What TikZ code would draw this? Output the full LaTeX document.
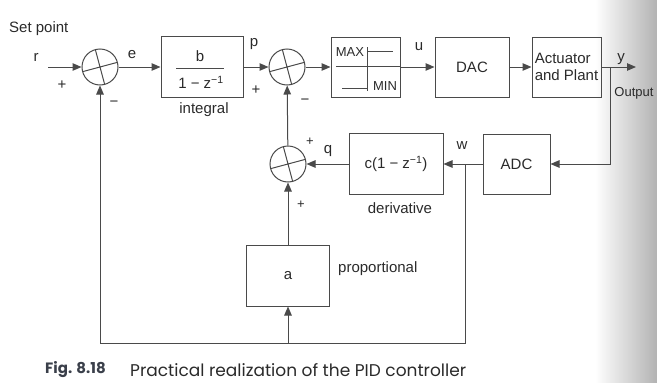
\documentclass[tikz,border=0pt]{standalone}
\usepackage{fontspec}
\setmainfont{Liberation Sans}
\newfontfamily\captfont{Poppins}
\usetikzlibrary{arrows.meta,calc}
\definecolor{ln}{HTML}{4A4A4A}
\definecolor{tx}{HTML}{2A2A2A}
\definecolor{capc}{HTML}{3A3F4A}
\begin{document}
\begin{tikzpicture}[x=1pt,y=-1pt,
  lab/.style={text=tx,font=\fontsize{15}{17}\selectfont,inner sep=0pt},
  slab/.style={text=tx,font=\fontsize{13}{15}\selectfont,inner sep=0pt},
  blk/.style={draw=ln,line width=1pt,rectangle,inner sep=0pt,text=tx,font=\fontsize{15}{17}\selectfont},
  summer/.style={draw=ln,line width=1pt,circle,minimum size=36pt,inner sep=0pt},
  wire/.style={draw=ln,line width=1pt},
  arr/.style={wire,-{Triangle[length=9pt,width=7.5pt]},color=ln}]
\useasboundingbox (0,0) rectangle (657,383);
\shade[left color=white,right color=black!30] (595,0) rectangle (657,383);
% summing junctions
\node[summer] (s1) at (100,67) {};
\node[summer] (s2) at (287,67) {};
\node[summer] (s3) at (288,164) {};
\foreach \s in {s1,s2,s3} {\draw[wire] (\s.15) -- (\s.195) (\s.105) -- (\s.285);}
% blocks
\node[blk,minimum width=82pt,minimum height=61pt] (intg) at (202,67) {};
\node[lab] (bnum) at (200,56) {b};
\draw[wire] (176,68.5) -- (224,68.5);
\node[lab] (bden) at (201,82) {1 − z\textsuperscript{−1}};
\node[blk,minimum width=69pt,minimum height=60pt] (sat) at (365.5,67) {};
\node[blk,minimum width=74pt,minimum height=60pt] (dac) at (472,67) {DAC};
\node[blk,minimum width=69pt,minimum height=60pt,align=left] (act) at (566.5,67) {Actuator\\and Plant};
\node[blk,minimum width=67pt,minimum height=60pt] (adc) at (516.5,164) {ADC};
\node[blk,minimum width=94pt,minimum height=61pt] (der) at (396,164) {c(1 − z\textsuperscript{−1})};
\node[blk,minimum width=83pt,minimum height=61pt] (pa) at (288,275.5) {a};
% saturation
\node[text=tx,font=\fontsize{13}{15}\selectfont,inner sep=0pt] (mx) at (350,52) {MAX};
\node[text=tx,font=\fontsize{13}{15}\selectfont,inner sep=0pt] (mn) at (385,86) {MIN};
\draw[wire] (367,47) -- (367,91);
\draw[wire] (367,51) -- (393,51);
\draw[wire] (336,66) -- (400,66);
\draw[wire] (342,88.5) -- (367,88.5);
% coordinates
\coordinate (in) at (48,67);
\coordinate (out) at (636,67);
\coordinate (br) at (610,67);
\coordinate (jw) at (465,164);
\coordinate (jb) at (465,343);
\coordinate (ja) at (288,343);
% connectors
\draw[arr] (in) -- (s1);
\draw[arr] (s1) -- (intg);
\draw[arr] (intg) -- (s2);
\draw[arr] (s2) -- (sat);
\draw[arr] (sat) -- (dac);
\draw[arr] (dac) -- (act);
\draw[arr] (act) -- (out);
\draw[arr] (br) |- (adc);
\draw[arr] (adc) -- (der);
\draw[arr] (der) -- (s3);
\draw[arr] (s3) -- (s2);
\draw[arr] (pa) -- (s3);
\draw[wire] (jw) -- (jb) -- (ja);
\draw[arr] (ja) -- (pa);
\draw[arr] (ja) -| (s1);
% labels
\node[lab,anchor=west] (sp) at (9,29) {Set point};
\node[lab] (lr) at (36,57) {r};
\node[lab] at (62,85) {+};
\node[lab] at (114,104) {−};
\node[lab] (le) at (132,55) {e};
\node[lab] (li) at (204,110) {integral};
\node[lab] (lp) at (254,44) {p};
\node[lab] at (256,90) {+};
\node[lab] at (305,102) {−};
\node[lab] (lu) at (419,47) {u};
\node[lab] (ly) at (621,59) {y};
\node[slab] (lo) at (634,93) {Output};
\node[lab] (lw) at (462,146) {w};
\node[lab] (lq) at (328,151) {q};
\node[slab] at (310,142) {+};
\node[slab] at (301,205) {+};
\node[lab] (ld) at (400,208) {derivative};
\node[lab,anchor=west] (lpr) at (338,269) {proportional};
% caption
\node[anchor=west,inner sep=0pt,text=capc,font=\captfont\bfseries\fontsize{15}{17}\selectfont] (cap1) at (45,370) {Fig. 8.18};
\node[anchor=west,inner sep=0pt,text=tx,font=\captfont\fontsize{17}{19}\selectfont] (cap2) at (130,370) {Practical realization of the PID controller};
\end{tikzpicture}
\end{document}
